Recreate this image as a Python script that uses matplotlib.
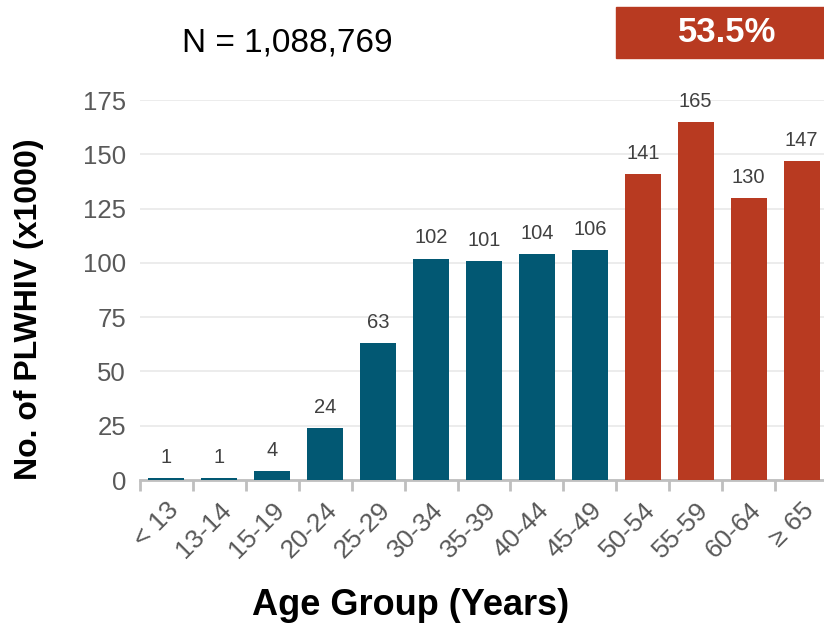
import matplotlib
matplotlib.use("Agg")
import matplotlib.pyplot as plt
from matplotlib.patches import Rectangle

age_groups = ["< 13", "13-14", "15-19", "20-24", "25-29", "30-34", "35-39",
              "40-44", "45-49", "50-54", "55-59", "60-64", "\u2265 65"]
plwhiv_thousands = [1, 1, 4, 24, 63, 102, 101, 104, 106, 141, 165, 130, 147]
older_start = "50-54"
total_label = "N = 1,088,769"
older_share_label = "53.5%"
y_ticks = [0, 25, 50, 75, 100, 125, 150, 175]

BLUE = "#025873"
RED = "#B83A21"
SANS = ["Liberation Sans", "DejaVu Sans"]

fig = plt.figure(figsize=(8.24, 6.24), dpi=100)
W, H = 824, 624
ax = fig.add_axes([140 / W, 1 - 480 / H, 688 / W, 380 / H])

split = age_groups.index(older_start)
colors = [BLUE if i < split else RED for i in range(len(age_groups))]
x = list(range(len(age_groups)))
ax.bar(x, plwhiv_thousands, width=0.68, color=colors, zorder=3)

for xi, v in zip(x, plwhiv_thousands):
    ax.annotate(f"{v}", (xi, v), xytext=(0, 8), textcoords="offset points",
                ha="center", va="bottom", fontsize=14.5, color="#404040",
                family=SANS)

ax.set_xlim(-0.5, len(age_groups) - 0.5)
ax.set_ylim(0, 175)
ax.set_yticks(y_ticks)
ax.set_yticklabels([str(t) for t in y_ticks], family=SANS, fontsize=18.5,
                   color="#595959")
ax.tick_params(axis="y", length=0, pad=10)
ax.yaxis.grid(True, color="#EBEBEB", linewidth=1.3, zorder=0)
ax.set_axisbelow(True)

# category labels centered on bars, tick marks on category boundaries
ax.set_xticks(x)
ax.set_xticklabels(age_groups, rotation=45, ha="right", rotation_mode="anchor",
                   family=SANS, fontsize=19, color="#595959")
ax.tick_params(axis="x", which="major", length=0, pad=13)
ax.set_xticks([i - 0.5 for i in range(len(age_groups) + 1)], minor=True)
ax.tick_params(axis="x", which="minor", length=8, width=2, color="#BFBFBF")

for s in ["top", "right", "left"]:
    ax.spines[s].set_visible(False)
ax.spines["bottom"].set_color("#BFBFBF")
ax.spines["bottom"].set_linewidth(2)

ax.set_ylabel("No. of PLWHIV (x1000)", family=SANS, fontweight="bold",
              fontsize=23, color="black")
ax.yaxis.set_label_coords(-(140 - 44) / 688, 0.45)
ax.set_xlabel("Age Group (Years)", family=SANS, fontweight="bold",
              fontsize=26, color="black")
ax.xaxis.set_label_coords((411 - 140) / 688, -(588 - 480) / 380)

fig.text(287 / W, 1 - 43 / H, total_label, ha="center", va="center",
         family=SANS, fontsize=24, color="black")

# highlight box over the older age groups
trans = ax.get_xaxis_transform()
box_y0 = 1 + (100 - 58) / 380
box_h = (58 - 7) / 380
box = Rectangle((split - 0.5, box_y0), len(age_groups) - split + 1, box_h,
                transform=trans, color=RED, clip_on=False, zorder=5)
ax.add_patch(box)
ax.text(split + 1.6, box_y0 + box_h / 2, older_share_label,
        transform=trans, ha="center", va="center", family=SANS,
        fontweight="bold", fontsize=25, color="white", zorder=6)

fig.savefig("out.png", dpi=100)
